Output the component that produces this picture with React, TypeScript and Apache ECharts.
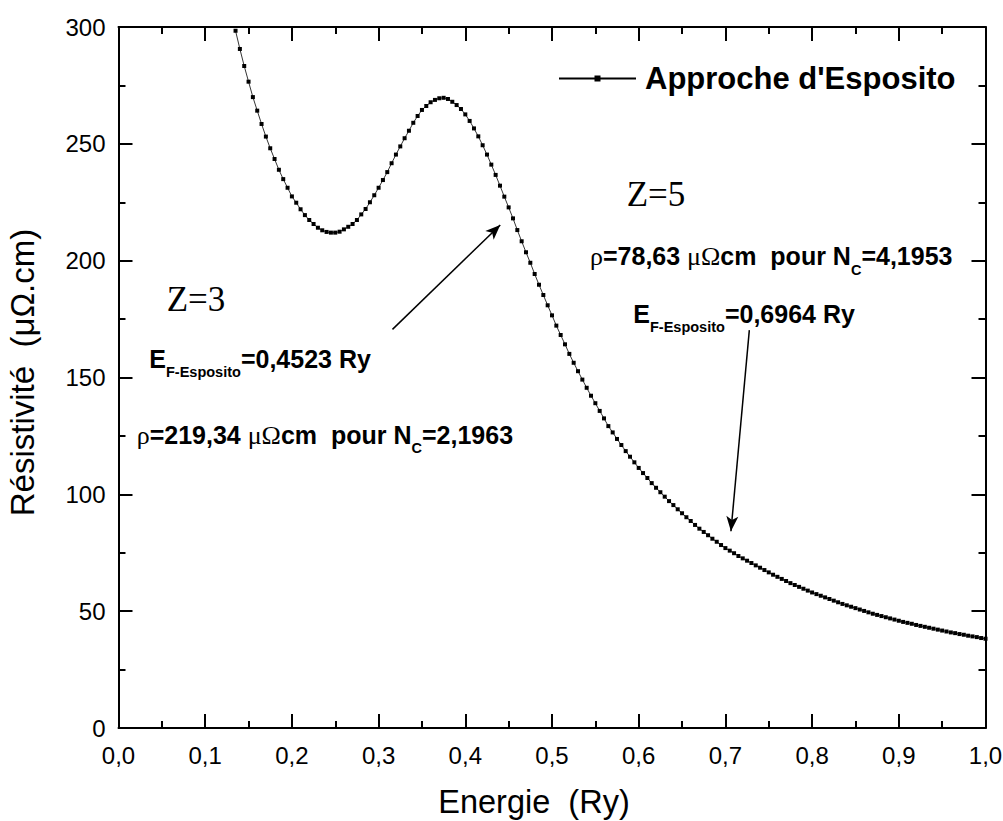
import React, { useEffect, useRef } from 'react';
import * as echarts from 'echarts';

const seriesName = "Approche d'Esposito";

const energies = [
  0.135, 0.14, 0.145, 0.15, 0.155, 0.16, 0.165, 0.17, 0.175, 0.18,
  0.185, 0.19, 0.195, 0.2, 0.205, 0.21, 0.215, 0.22, 0.225, 0.23,
  0.235, 0.24, 0.245, 0.25, 0.255, 0.26, 0.265, 0.27, 0.275, 0.28,
  0.285, 0.29, 0.295, 0.3, 0.305, 0.31, 0.315, 0.32, 0.325, 0.33,
  0.335, 0.34, 0.345, 0.35, 0.355, 0.36, 0.365, 0.37, 0.375, 0.38,
  0.385, 0.39, 0.395, 0.4, 0.405, 0.41, 0.415, 0.42, 0.425, 0.43,
  0.435, 0.44, 0.445, 0.45, 0.455, 0.46, 0.465, 0.47, 0.475, 0.48,
  0.485, 0.49, 0.495, 0.5, 0.505, 0.51, 0.515, 0.52, 0.525, 0.53,
  0.535, 0.54, 0.545, 0.55, 0.555, 0.56, 0.565, 0.57, 0.575, 0.58,
  0.585, 0.59, 0.595, 0.6, 0.605, 0.61, 0.615, 0.62, 0.625, 0.63,
  0.635, 0.64, 0.645, 0.65, 0.655, 0.66, 0.665, 0.67, 0.675, 0.68,
  0.685, 0.69, 0.695, 0.7, 0.705, 0.71, 0.715, 0.72, 0.725, 0.73,
  0.735, 0.74, 0.745, 0.75, 0.755, 0.76, 0.765, 0.77, 0.775, 0.78,
  0.785, 0.79, 0.795, 0.8, 0.805, 0.81, 0.815, 0.82, 0.825, 0.83,
  0.835, 0.84, 0.845, 0.85, 0.855, 0.86, 0.865, 0.87, 0.875, 0.88,
  0.885, 0.89, 0.895, 0.9, 0.905, 0.91, 0.915, 0.92, 0.925, 0.93,
  0.935, 0.94, 0.945, 0.95, 0.955, 0.96, 0.965, 0.97, 0.975, 0.98,
  0.985, 0.99, 0.995, 1.0,
];

const resistivity = [
  298.4, 290.6, 283.3, 276.6, 270.0, 264.2, 258.5, 253.1, 248.1, 243.5,
  238.9, 234.9, 231.2, 227.5, 224.8, 222.0, 219.5, 217.4, 215.7, 214.1,
  213.0, 212.3, 212.0, 212.0, 212.4, 213.4, 214.5, 215.7, 217.4, 219.8,
  222.1, 225.0, 228.0, 231.2, 234.5, 237.9, 241.7, 245.4, 248.9, 252.4,
  255.6, 259.0, 261.9, 264.5, 266.2, 267.8, 268.8, 269.5, 269.7, 269.2,
  268.0, 266.6, 264.9, 262.6, 259.8, 256.6, 253.2, 249.4, 245.4, 241.1,
  236.7, 232.1, 227.4, 222.8, 218.1, 213.1, 208.3, 203.6, 199.1, 194.3,
  189.7, 185.3, 180.9, 176.6, 172.2, 168.2, 164.2, 160.1, 156.3, 152.7,
  149.1, 145.6, 142.2, 139.0, 135.7, 132.5, 129.2, 126.5, 123.7, 121.1,
  118.5, 116.1, 113.7, 111.3, 109.1, 107.0, 104.8, 102.8, 100.9, 99.0,
  97.1, 95.4, 93.6, 91.9, 90.2, 88.6, 86.9, 85.3, 83.9, 82.5,
  81.0, 79.7, 78.3, 77.0, 75.9, 74.8, 73.6, 72.6, 71.6, 70.6,
  69.6, 68.6, 67.6, 66.6, 65.6, 64.7, 63.8, 62.9, 62.0, 61.2,
  60.4, 59.6, 58.8, 58.0, 57.3, 56.6, 55.9, 55.2, 54.5, 53.8,
  53.1, 52.5, 51.9, 51.3, 50.7, 50.1, 49.5, 48.9, 48.4, 47.9,
  47.4, 46.9, 46.4, 45.9, 45.4, 45.0, 44.6, 44.1, 43.7, 43.3,
  42.9, 42.5, 42.1, 41.7, 41.3, 40.9, 40.6, 40.2, 39.9, 39.5,
  39.2, 38.9, 38.5, 38.2,
];

const xTickLabels = ['0,0', '0,1', '0,2', '0,3', '0,4', '0,5', '0,6', '0,7', '0,8', '0,9', '1,0'];
const yTickLabels = ['0', '50', '100', '150', '200', '250', '300'];

const xTitle = 'Energie  (Ry)';
const yTitle = 'Résistivité  (μΩ.cm)';

// annotation arrows: [start, end] in data coordinates (E, rho)
const arrowFrom1 = [0.316, 170.6];
const arrowTo1 = [0.4403, 215.3];
const arrowFrom2 = [0.7276, 170.3];
const arrowTo2 = [0.7064, 84.2];

const SANS = '"Liberation Sans", Arial, sans-serif';
const SERIF = '"Liberation Serif", "Times New Roman", serif';

export default function App() {
  const ref = useRef<HTMLDivElement>(null);

  useEffect(() => {
    if (!ref.current) return;
    const chart = echarts.init(ref.current, undefined, { renderer: 'svg' });

    const mkLine = () => ({ show: true, onZero: false, lineStyle: { color: '#000', width: 2 } });
    const mkTick = () => ({ show: true, inside: true, length: 14, lineStyle: { color: '#000', width: 2 } });
    const mkMinor = () => ({ show: true, splitNumber: 2, length: 7, lineStyle: { color: '#000', width: 2 } });

    const richMain = { fontSize: 25, fontWeight: 'bold', fontFamily: SANS, lineHeight: 25, verticalAlign: 'top', color: '#000' };
    const richGreek = { fontSize: 26, fontWeight: 'normal', fontFamily: SERIF, lineHeight: 25, verticalAlign: 'top', color: '#000' };
    const richSub = { fontSize: 14.5, fontWeight: 'bold', fontFamily: SANS, lineHeight: 14, padding: [18.5, 0, 0, 0], verticalAlign: 'top', color: '#000' };
    const rich = { m: richMain, g: richGreek, s: richSub };

    const textEl = (x: number, y: number, text: string) => ({
      type: 'text',
      x,
      y,
      silent: true,
      style: { text, rich, textVerticalAlign: 'top', textAlign: 'left', fill: '#000' },
    });

    const zEl = (x: number, y: number, text: string) => ({
      type: 'text',
      x,
      y,
      silent: true,
      style: { text, fontSize: 35, fontFamily: SERIF, textVerticalAlign: 'top', textAlign: 'left', fill: '#000' },
    });

    const option: any = {
      animation: false,
      backgroundColor: '#fff',
      grid: { left: 118.5, right: 17.5, top: 27, bottom: 93, containLabel: false, outerBoundsMode: 'none' },
      legend: {
        show: true,
        data: [seriesName],
        left: 553,
        top: 58,
        itemWidth: 77,
        itemHeight: 7.5,
        selectedMode: false,
        textStyle: { fontSize: 31, fontWeight: 'bold', fontFamily: SANS, color: '#000', padding: [0, 0, 0, 4] },
      },
      xAxis: [
        {
          type: 'value',
          min: 0,
          max: 1,
          interval: 0.1,
          position: 'bottom',
          axisLine: mkLine(),
          axisTick: mkTick(),
          minorTick: mkMinor(),
          splitLine: { show: false },
          axisLabel: {
            color: '#000',
            fontSize: 24,
            fontFamily: SANS,
            margin: 15,
            formatter: (v: number) => xTickLabels[Math.round(v * 10)] ?? '',
          },
          name: xTitle,
          nameLocation: 'middle',
          nameGap: 62,
          nameTextStyle: { fontSize: 32.5, lineHeight: 24, fontFamily: SANS, color: '#000', padding: [0, 36, 0, 0] },
        },
        {
          type: 'value',
          min: 0,
          max: 1,
          interval: 0.1,
          position: 'top',
          axisLine: mkLine(),
          axisTick: mkTick(),
          minorTick: mkMinor(),
          splitLine: { show: false },
          axisLabel: { show: false },
        },
      ],
      yAxis: [
        {
          type: 'value',
          min: 0,
          max: 300,
          interval: 50,
          position: 'left',
          axisLine: mkLine(),
          axisTick: mkTick(),
          minorTick: mkMinor(),
          splitLine: { show: false },
          axisLabel: {
            color: '#000',
            fontSize: 24,
            fontFamily: SANS,
            margin: 13,
            formatter: (v: number) => yTickLabels[Math.round(v / 50)] ?? '',
          },
          name: yTitle,
          nameLocation: 'middle',
          nameGap: 80,
          nameTextStyle: { fontSize: 33, fontFamily: SANS, color: '#000', padding: [0, 0, 0, 10] },
        },
        {
          type: 'value',
          min: 0,
          max: 300,
          interval: 50,
          position: 'right',
          axisLine: mkLine(),
          axisTick: mkTick(),
          minorTick: mkMinor(),
          splitLine: { show: false },
          axisLabel: { show: false },
        },
      ],
      series: [
        {
          name: seriesName,
          type: 'line',
          xAxisIndex: 0,
          yAxisIndex: 0,
          data: energies.map((e, i) => [e, resistivity[i]]),
          symbol: 'rect',
          symbolSize: 4,
          showSymbol: true,
          itemStyle: { color: '#000' },
          lineStyle: { color: '#000', width: 0.8 },
          emphasis: { disabled: true },
          markLine: {
            silent: true,
            animation: false,
            symbol: ['none', 'arrow'],
            symbolSize: [9, 15],
            lineStyle: { color: '#000', width: 1.5, type: 'solid' },
            label: { show: false },
            emphasis: { disabled: true },
            data: [
              [{ coord: arrowFrom1 }, { coord: arrowTo1 }],
              [{ coord: arrowFrom2 }, { coord: arrowTo2 }],
            ],
          },
        },
      ],
      graphic: [
        zEl(166.7, 281.9, 'Z=3'),
        zEl(626.7, 177.2, 'Z=5'),
        textEl(149.3, 346.4, '{m|E}{s|F-Esposito}{m|=0,4523 Ry}'),
        textEl(136.7, 422.4, '{g|ρ}{m|=219,34 }{g|μΩ}{m|cm  pour N}{s|C}{m|=2,1963}'),
        textEl(590, 243.7, '{g|ρ}{m|=78,63 }{g|μΩ}{m|cm  pour N}{s|C}{m|=4,1953}'),
        textEl(633.3, 301.4, '{m|E}{s|F-Esposito}{m|=0,6964 Ry}'),
      ],
    };

    chart.setOption(option);
    return () => chart.dispose();
  }, []);

  return (
    <div
      ref={ref}
      style={{ position: 'fixed', left: 0, top: 0, width: '1003px', height: '821px', background: '#fff' }}
    />
  );
}
